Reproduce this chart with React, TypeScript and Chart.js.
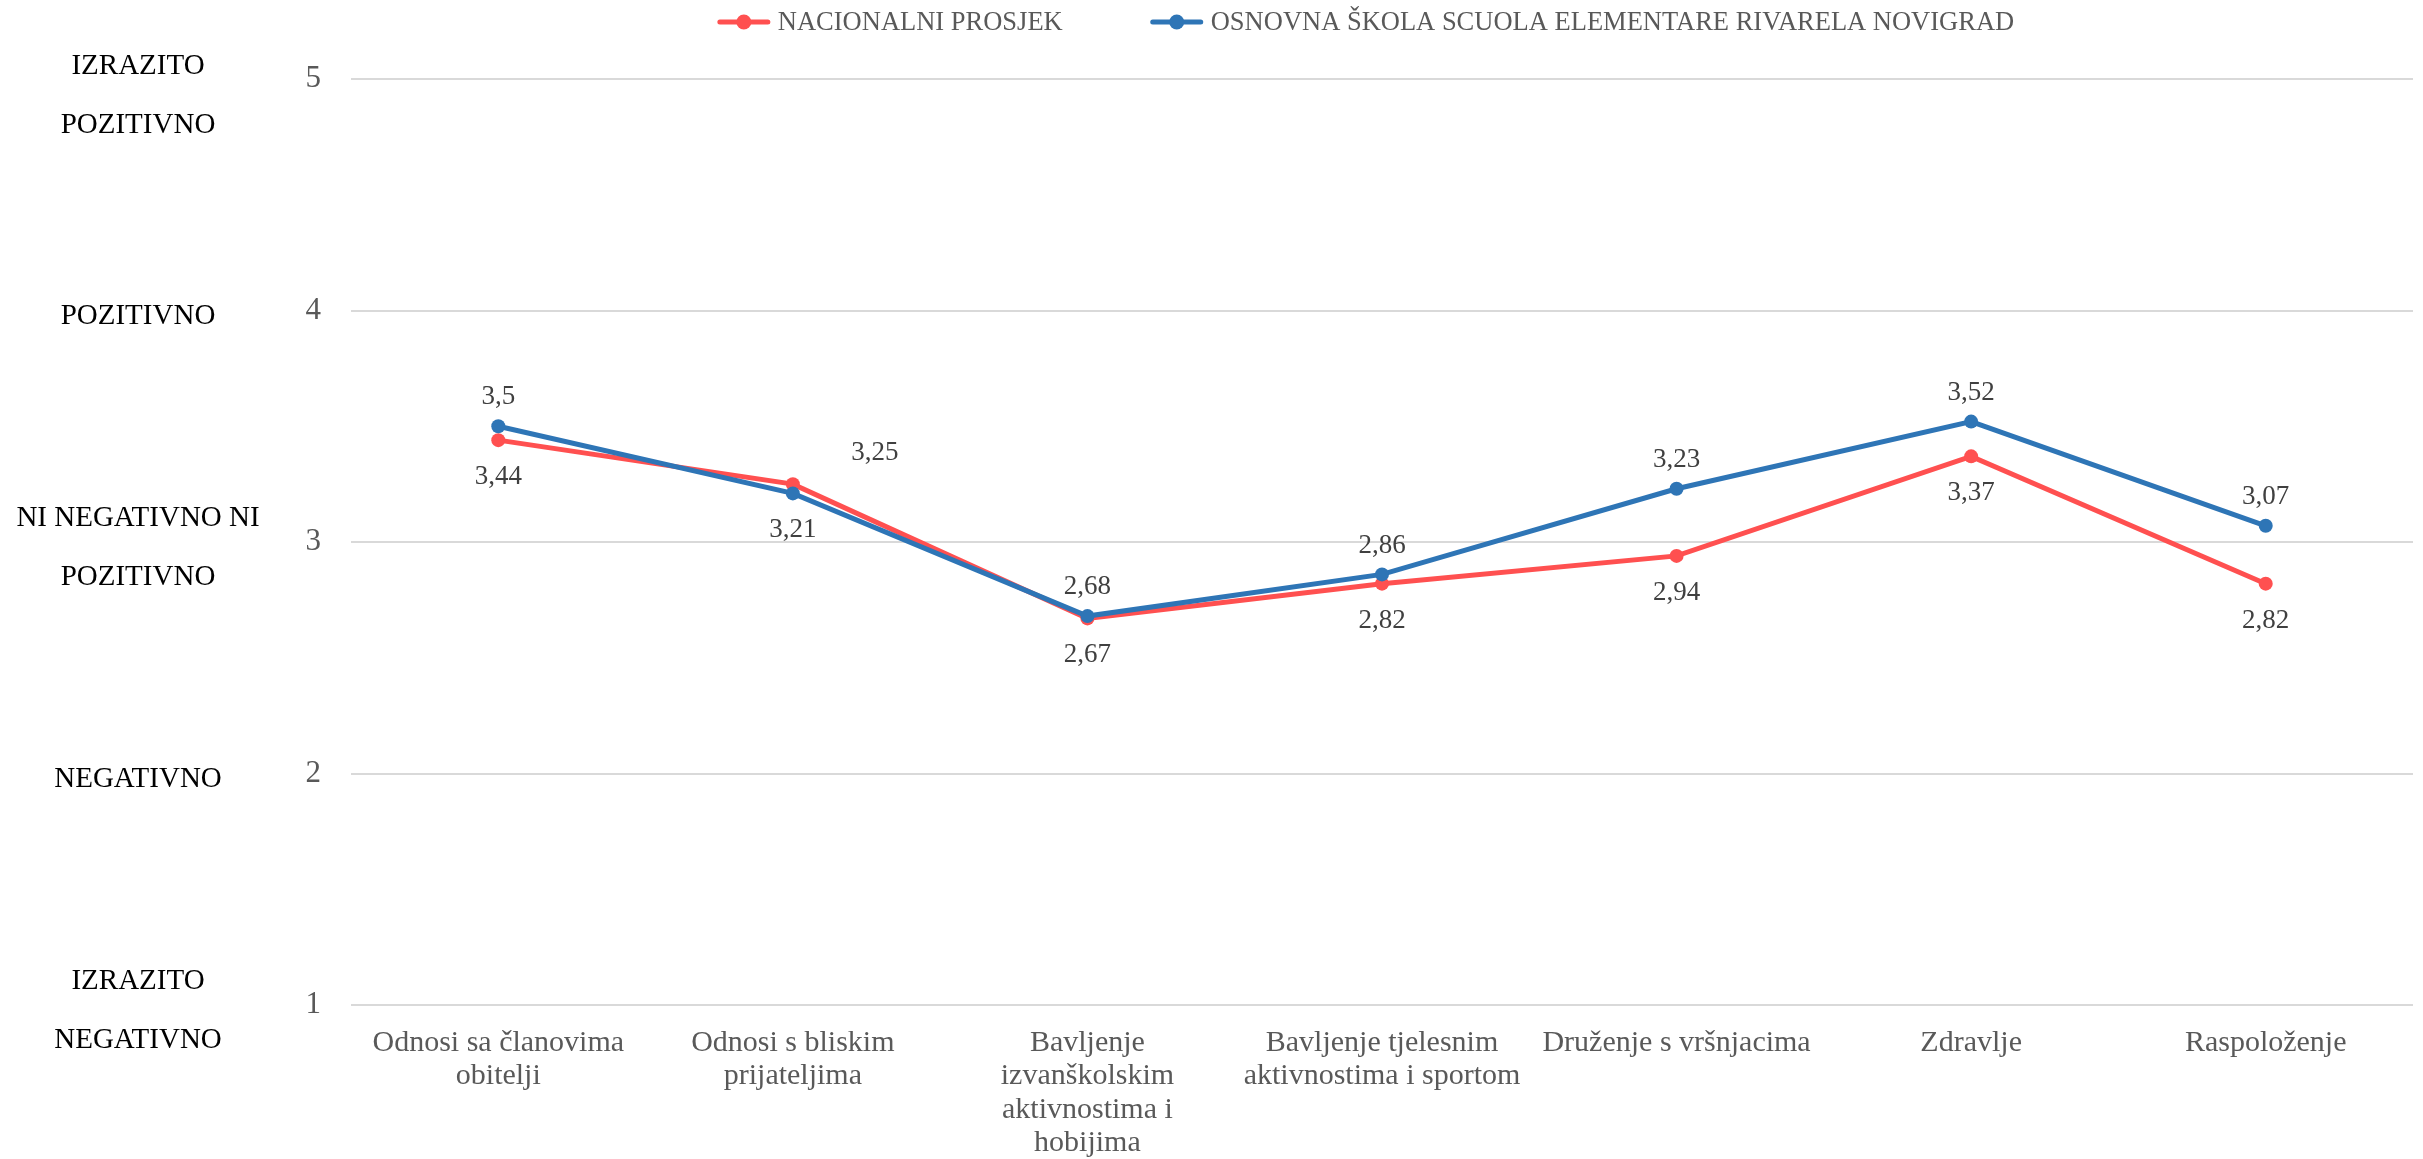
import React, { useEffect, useRef } from "react";
import { Chart, registerables } from "chart.js";

Chart.register(...registerables);

const categories: (string | string[])[] = [
  ["Odnosi sa članovima", "obitelji"],
  ["Odnosi s bliskim", "prijateljima"],
  ["Bavljenje", "izvanškolskim", "aktivnostima i", "hobijima"],
  ["Bavljenje tjelesnim", "aktivnostima i sportom"],
  "Druženje s vršnjacima",
  "Zdravlje",
  "Raspoloženje",
];

const nationalValues = [3.44, 3.25, 2.67, 2.82, 2.94, 3.37, 2.82];
const schoolValues = [3.5, 3.21, 2.68, 2.86, 3.23, 3.52, 3.07];

const seriesNames = [
  "NACIONALNI PROSJEK",
  "OSNOVNA ŠKOLA SCUOLA ELEMENTARE RIVARELA NOVIGRAD",
];

const yTickValues = [1, 2, 3, 4, 5];
const yDescriptors = [
  ["IZRAZITO", "NEGATIVNO"],
  ["NEGATIVNO"],
  ["NI NEGATIVNO NI", "POZITIVNO"],
  ["POZITIVNO"],
  ["IZRAZITO", "POZITIVNO"],
];

const nationalLabelPlacement = ["below", "upright", "below", "below", "below", "below", "below"];
const schoolLabelPlacement = ["above", "below", "above", "above", "above", "above", "above"];

const RED = "#FF5050";
const BLUE = "#2E75B6";
const FONT = "'Liberation Serif', 'Times New Roman', serif";

const fmt = (v: number) => String(v).replace(".", ",");

const dataLabelPlugin = {
  id: "dataLabels",
  afterDatasetsDraw(chart: any) {
    const ctx = chart.ctx;
    ctx.save();
    ctx.font = `27px ${FONT}`;
    ctx.fillStyle = "#404040";
    ctx.textAlign = "center";
    ctx.textBaseline = "middle";
    chart.data.datasets.forEach((ds: any, di: number) => {
      const meta = chart.getDatasetMeta(di);
      const placements: string[] = ds.labelPlacement || [];
      meta.data.forEach((pt: any, i: number) => {
        const v = ds.data[i];
        const p = placements[i] || "above";
        let dx = 0;
        let dy = -29;
        if (p === "below") dy = 37;
        if (p === "upright") {
          dx = 82;
          dy = -31;
        }
        ctx.fillText(fmt(v), pt.x + dx, pt.y + dy);
      });
    });
    ctx.restore();
  },
};

const descriptorPlugin = {
  id: "descriptors",
  afterDraw(chart: any) {
    const ctx = chart.ctx;
    const y = chart.scales.y;
    ctx.save();
    ctx.font = `29px ${FONT}`;
    ctx.fillStyle = "#000000";
    ctx.textAlign = "center";
    ctx.textBaseline = "middle";
    const lineGap = 59;
    yTickValues.forEach((v, idx) => {
      const lines = yDescriptors[idx];
      const cy = y.getPixelForValue(v) + 6;
      let start = cy - ((lines.length - 1) * lineGap) / 2;
      if (start < 66) start = 66;
      lines.forEach((ln, li) => {
        ctx.fillText(ln, 138, start + li * lineGap);
      });
    });
    ctx.restore();
  },
};

const legendPlugin = {
  id: "customLegend",
  afterDraw(chart: any) {
    const ctx = chart.ctx;
    ctx.save();
    ctx.font = `26.5px ${FONT}`;
    ctx.textBaseline = "middle";
    ctx.textAlign = "left";
    const markerW = 52;
    const gapText = 8;
    const gapItem = 88;
    const widths = chart.data.datasets.map(
      (ds: any) => markerW + gapText + ctx.measureText(ds.label).width
    );
    const total = widths.reduce((a: number, b: number) => a + b, 0) + gapItem * (widths.length - 1);
    const center = (chart.chartArea.left + chart.chartArea.right) / 2 - 16;
    let x = center - total / 2;
    const cy = 22;
    chart.data.datasets.forEach((ds: any, i: number) => {
      ctx.strokeStyle = ds.borderColor;
      ctx.lineWidth = 5;
      ctx.lineCap = "round";
      ctx.beginPath();
      ctx.moveTo(x + 2, cy);
      ctx.lineTo(x + markerW - 2, cy);
      ctx.stroke();
      ctx.fillStyle = ds.borderColor;
      ctx.beginPath();
      ctx.arc(x + markerW / 2, cy, 7.5, 0, Math.PI * 2);
      ctx.fill();
      ctx.fillStyle = "#595959";
      ctx.fillText(ds.label, x + markerW + gapText, cy + 1);
      x += widths[i] + gapItem;
    });
    ctx.restore();
  },
};

export default function App() {
  const canvasRef = useRef<HTMLCanvasElement | null>(null);

  useEffect(() => {
    document.body.style.margin = "0";
    const canvas = canvasRef.current;
    if (!canvas) return;
    const chart = new Chart(canvas, {
      type: "line",
      data: {
        labels: categories,
        datasets: [
          {
            label: seriesNames[0],
            data: nationalValues,
            borderColor: RED,
            backgroundColor: RED,
            borderWidth: 5,
            pointRadius: 7,
            pointHoverRadius: 7,
            pointBorderWidth: 0,
            tension: 0,
            order: 1,
            labelPlacement: nationalLabelPlacement,
          } as any,
          {
            label: seriesNames[1],
            data: schoolValues,
            borderColor: BLUE,
            backgroundColor: BLUE,
            borderWidth: 5,
            pointRadius: 7,
            pointHoverRadius: 7,
            pointBorderWidth: 0,
            tension: 0,
            order: 0,
            labelPlacement: schoolLabelPlacement,
          } as any,
        ],
      },
      options: {
        animation: false,
        responsive: true,
        maintainAspectRatio: false,
        layout: { padding: { top: 79, right: 10, left: 0, bottom: 0 } },
        plugins: {
          legend: { display: false },
          tooltip: { enabled: false },
        },
        scales: {
          x: {
            offset: true,
            grid: { display: false, drawTicks: false },
            border: { display: false },
            ticks: {
              autoSkip: false,
              maxRotation: 0,
              minRotation: 0,
              padding: 21,
              color: "#595959",
              font: { family: FONT, size: 30, lineHeight: 1.12 },
            },
            afterFit(scale: any) {
              scale.height = 154;
            },
          },
          y: {
            min: 1,
            max: 5,
            grid: { color: "#d9d9d9", lineWidth: 2, drawTicks: false },
            border: { display: false },
            ticks: {
              stepSize: 1,
              padding: 30,
              color: "#595959",
              font: { family: FONT, size: 31 },
              callback: (v: any) => String(v),
            },
            afterFit(scale: any) {
              scale.width = 351;
            },
          },
        },
      },
      plugins: [dataLabelPlugin, descriptorPlugin, legendPlugin],
    });
    return () => chart.destroy();
  }, []);

  return (
    <div style={{ position: "relative", width: "100vw", height: "100vh" }}>
      <canvas ref={canvasRef} />
    </div>
  );
}
